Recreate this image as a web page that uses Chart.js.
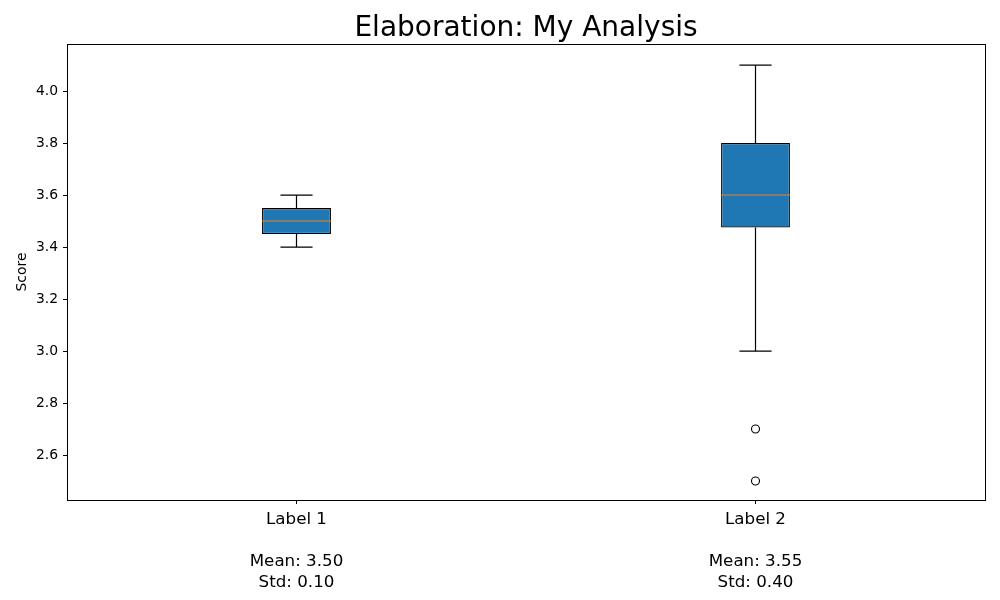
<!DOCTYPE html>
<html>
<head>
<meta charset="utf-8">
<script src="https://cdn.jsdelivr.net/npm/chart.js@4/dist/chart.umd.min.js"></script>
<style>
  html, body { margin: 0; padding: 0; background: #fff; }
  #wrap { width: 1000px; height: 600px; }
</style>
</head>
<body>
<div id="wrap"><canvas id="myChart" width="1000" height="600"></canvas></div>
<script>
// data
var labels = ['Label 1', 'Label 2'];
var positions = [1, 2];
var q1 = [3.45, 3.475];
var q3 = [3.55, 3.8];
var medians = [3.5, 3.6];
var whiskerLow = [3.4, 3.0];
var whiskerHigh = [3.6, 4.1];
var outliers = [[], [2.7, 2.5]];
var means = [3.50, 3.55];
var stds = [0.10, 0.40];
var yTicks = [2.6, 2.8, 3.0, 3.2, 3.4, 3.6, 3.8, 4.0];

var capHalf = 0.035;
var medHalf = 0.075;

// build whisker + cap segments, separated by gaps
var whiskerPts = [];
var medianPts = [];
var outlierPts = [];
positions.forEach(function (x, i) {
    whiskerPts.push({x: x, y: q1[i]}, {x: x, y: whiskerLow[i]}, {x: x, y: null});
    whiskerPts.push({x: x, y: q3[i]}, {x: x, y: whiskerHigh[i]}, {x: x, y: null});
    whiskerPts.push({x: x - capHalf, y: whiskerLow[i]}, {x: x + capHalf, y: whiskerLow[i]}, {x: x, y: null});
    whiskerPts.push({x: x - capHalf, y: whiskerHigh[i]}, {x: x + capHalf, y: whiskerHigh[i]}, {x: x, y: null});
    medianPts.push({x: x - medHalf, y: medians[i]}, {x: x + medHalf, y: medians[i]}, {x: x, y: null});
    outliers[i].forEach(function (v) { outlierPts.push({x: x, y: v}); });
});

var tickLabels = labels.map(function (l, i) {
    return [l, '', 'Mean: ' + means[i].toFixed(2), 'Std: ' + stds[i].toFixed(2)];
});

// frame around the plot area (matplotlib spines)
var frame = {
    id: 'frame',
    afterDatasetsDraw: function (chart) {
        var a = chart.chartArea, c = chart.ctx;
        c.save();
        c.strokeStyle = '#000';
        c.lineWidth = 1;
        c.strokeRect(Math.round(a.left) + 0.5, Math.round(a.top) + 0.5,
            Math.round(a.right - a.left), Math.round(a.bottom - a.top));
        c.restore();
    }
};

var ctx = document.getElementById('myChart').getContext('2d');
var chart1 = new Chart(ctx, {
    type: 'bar',
    data: {
        datasets: [{
            type: 'bar',
            label: 'box',
            data: positions.map(function (x, i) { return {x: x, y: [q1[i], q3[i]]}; }),
            backgroundColor: '#1f77b4',
            borderColor: '#000',
            borderWidth: 1.3,
            borderSkipped: false,
            categoryPercentage: 1,
            barPercentage: 0.15,
            order: 2
        }, {
            type: 'line',
            label: 'whiskers',
            data: whiskerPts,
            borderColor: '#000',
            borderWidth: 1.2,
            pointRadius: 0,
            spanGaps: false,
            order: 1
        }, {
            type: 'line',
            label: 'median',
            data: medianPts,
            borderColor: '#ff7f0e',
            borderWidth: 1,
            pointRadius: 0,
            spanGaps: false,
            order: 0
        }, {
            type: 'scatter',
            label: 'outliers',
            data: outlierPts,
            backgroundColor: 'rgba(0,0,0,0)',
            borderColor: '#000',
            borderWidth: 1.1,
            pointRadius: 4,
            order: 0
        }]
    },
    options: {
        responsive: false,
        animation: false,
        devicePixelRatio: 1,
        layout: { padding: { left: 0, right: 15, top: 0, bottom: 0 } },
        plugins: {
            legend: { display: false },
            tooltip: { enabled: false },
            title: {
                display: true,
                text: 'Elaboration: My Analysis',
                fullSize: false,
                color: '#000',
                font: { family: 'DejaVu Sans', size: 28, weight: 'normal', lineHeight: 1.0 },
                padding: { top: 14.5, bottom: 1.5 }
            }
        },
        scales: {
            x: {
                type: 'linear',
                min: 0.5,
                max: 2.5,
                offset: false,
                afterBuildTicks: function (s) { s.ticks = positions.map(function (v) { return {value: v}; }); },
                afterFit: function (s) { s.height = 100; },
                grid: { offset: false, drawOnChartArea: false, drawTicks: true, tickLength: 4, color: '#000', tickWidth: 1 },
                border: { display: true, color: '#000' },
                ticks: {
                    color: '#000',
                    padding: 5,
                    maxRotation: 0,
                    autoSkip: false,
                    font: { family: 'DejaVu Sans', size: 16.7, lineHeight: 1.265 },
                    callback: function (v) { return tickLabels[positions.indexOf(v)]; }
                }
            },
            y: {
                min: 2.427,
                max: 4.181,
                afterBuildTicks: function (s) { s.ticks = yTicks.map(function (v) { return {value: v}; }); },
                afterFit: function (s) { s.width = 67; },
                grid: { drawOnChartArea: false, drawTicks: true, tickLength: 4, color: '#000', tickWidth: 1 },
                border: { display: true, color: '#000' },
                title: {
                    display: true,
                    text: 'Score',
                    color: '#000',
                    font: { family: 'DejaVu Sans', size: 13.9, lineHeight: 1.2 },
                    padding: { top: 13.7, bottom: 0 }
                },
                ticks: {
                    color: '#000',
                    padding: 5,
                    font: { family: 'DejaVu Sans', size: 13.9 },
                    callback: function (v) { return v.toFixed(1); }
                }
            }
        }
    },
    plugins: [frame]
});
</script>
</body>
</html>
